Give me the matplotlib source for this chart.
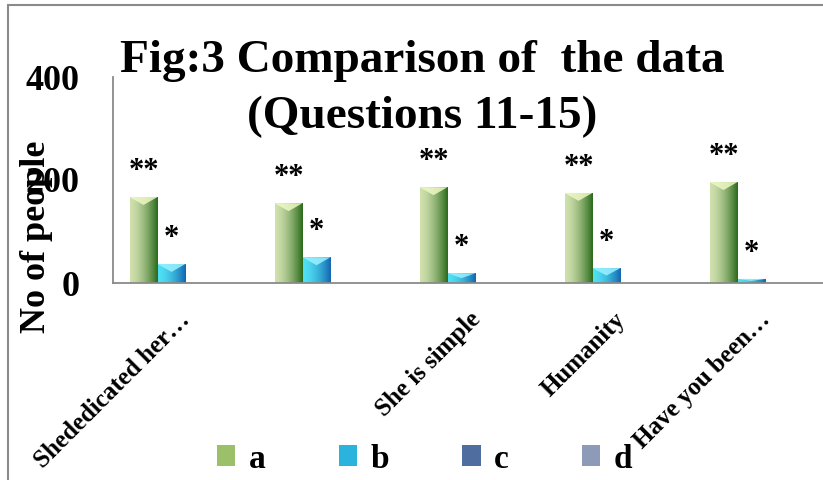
import numpy as np
import matplotlib
matplotlib.use("Agg")
import matplotlib.pyplot as plt
from matplotlib.patches import Rectangle, Polygon, Patch
from matplotlib.colors import to_rgb
from matplotlib.transforms import ScaledTranslation

# data
categories = ["Shededicated her…", "", "She is simple", "Humanity", "Have you been…"]
series_names = ["a", "b", "c", "d"]
a_vals = [167, 155, 186, 175, 196]
b_vals = [37, 50, 19, 29, 8]
c_vals = [0, 0, 0, 0, 0]
d_vals = [0, 0, 0, 0, 0]
a_marks = ["**", "**", "**", "**", "**"]
b_marks = ["*", "*", "*", "*", "*"]
y_ticks = [0, 200, 400]

plt.rcParams["font.family"] = ["Liberation Serif", "DejaVu Serif"]
plt.rcParams["font.weight"] = "bold"

# colours: (left light, right dark, bevel highlight, legend swatch)
styles = [
    ("#cfe0ad", "#2a6a1b", "#eef8c4", "#9cbf6a"),
    ("#4fe0f4", "#1466b0", "#9af2ff", "#2ab3dc"),
    ("#6f8dbd", "#3f5a88", "#a8c0e6", "#4f6d9e"),
    ("#a4b2cc", "#7584a3", "#dde6f5", "#8d9bb8"),
]

fig = plt.figure(figsize=(8.23, 4.8), dpi=100)
ax = fig.add_axes([113 / 823, 197 / 480, 725 / 823, 206 / 480])

x = np.arange(len(categories))
width = 0.193
all_vals = [a_vals, b_vals, c_vals, d_vals]


def gradient_bar(rect, left, right, hi):
    x0, y0 = rect.get_x(), rect.get_y()
    w, h = rect.get_width(), rect.get_height()
    if h <= 0:
        return
    t = np.linspace(0, 1, 64)
    c0, c1 = np.array(to_rgb(left)), np.array(to_rgb(right))
    # light on the left, dark on the right
    grad = c1[None, :] + (c0 - c1)[None, :] * (1 - t[:, None] ** 1.6)
    img = ax.imshow(grad[None, :, :], extent=[x0, x0 + w, y0, y0 + h],
                    aspect="auto", zorder=2, interpolation="bilinear")
    img.set_clip_path(rect)
    # top bevel
    dy = min(15.5, h / 2)
    tri = Polygon([[x0, y0 + h], [x0 + w, y0 + h], [x0 + w / 2, y0 + h - dy]],
                  closed=True, facecolor=hi, edgecolor="none", alpha=0.85, zorder=3)
    ax.add_patch(tri)


for i, vals in enumerate(all_vals):
    bars = ax.bar(x + (i - 1.5) * width, vals, width, color=styles[i][3],
                  edgecolor="none", zorder=1, label=series_names[i])
    for r in bars:
        gradient_bar(r, styles[i][0], styles[i][1], styles[i][2])

for xi, v, m in zip(x - 1.5 * width, a_vals, a_marks):
    ax.annotate(m, (xi, v), xytext=(0, 8), textcoords="offset points",
                ha="center", va="bottom", fontsize=22, fontweight="bold")
for xi, v, m in zip(x - 0.5 * width, b_vals, b_marks):
    ax.annotate(m, (xi, v), xytext=(0, 8), textcoords="offset points",
                ha="center", va="bottom", fontsize=22, fontweight="bold")

ax.set_xlim(-0.5, len(categories) - 0.5)
ax.set_ylim(0, 400)
ax.set_yticks(y_ticks)
ax.set_yticklabels([str(v) for v in y_ticks], fontsize=26, fontweight="bold")
ax.set_xticks(x)
ax.set_xticklabels(categories, rotation=45, ha="right", rotation_mode="anchor",
                   fontsize=18, fontweight="bold")
ax.tick_params(axis="y", length=0, pad=24)
ax.tick_params(axis="x", length=0, pad=18)
shift = ScaledTranslation(-7 / 100, 0, fig.dpi_scale_trans)
for lab in ax.get_xticklabels():
    lab.set_transform(lab.get_transform() + shift)
for s in ["top", "right"]:
    ax.spines[s].set_visible(False)
for s in ["left", "bottom"]:
    ax.spines[s].set_color("#8a8a8a")
    ax.spines[s].set_linewidth(1.3)
ax.spines["bottom"].set_zorder(5)

fig.text(37 / 823, 1 - 237 / 480, "No of people", rotation=90, ha="center",
         va="center", fontsize=26, fontweight="bold")

fig.text(422 / 823, 1 - 72 / 480, "Fig:3 Comparison of  the data", ha="center",
         va="baseline", fontsize=34, fontweight="bold")
fig.text(422 / 823, 1 - 128 / 480, "(Questions 11-15)", ha="center",
         va="baseline", fontsize=34, fontweight="bold")

handles = [Patch(facecolor=st[3], edgecolor="none") for st in styles]
fig.legend(handles, series_names, loc="center left",
           bbox_to_anchor=(217 / 823, 1 - 459 / 480), ncol=4, frameon=False,
           prop={"weight": "bold", "size": 24},
           handlelength=0.55, handleheight=0.6, handletextpad=0.4,
           columnspacing=2.2, borderpad=0, borderaxespad=0)

fig.add_artist(Rectangle((8 / 823, -0.1), 1.2, 1.1 - 5 / 480, transform=fig.transFigure,
                         fill=False, edgecolor="#8a8a8a", linewidth=1.5, clip_on=False))

fig.savefig("out.png", dpi=100)
